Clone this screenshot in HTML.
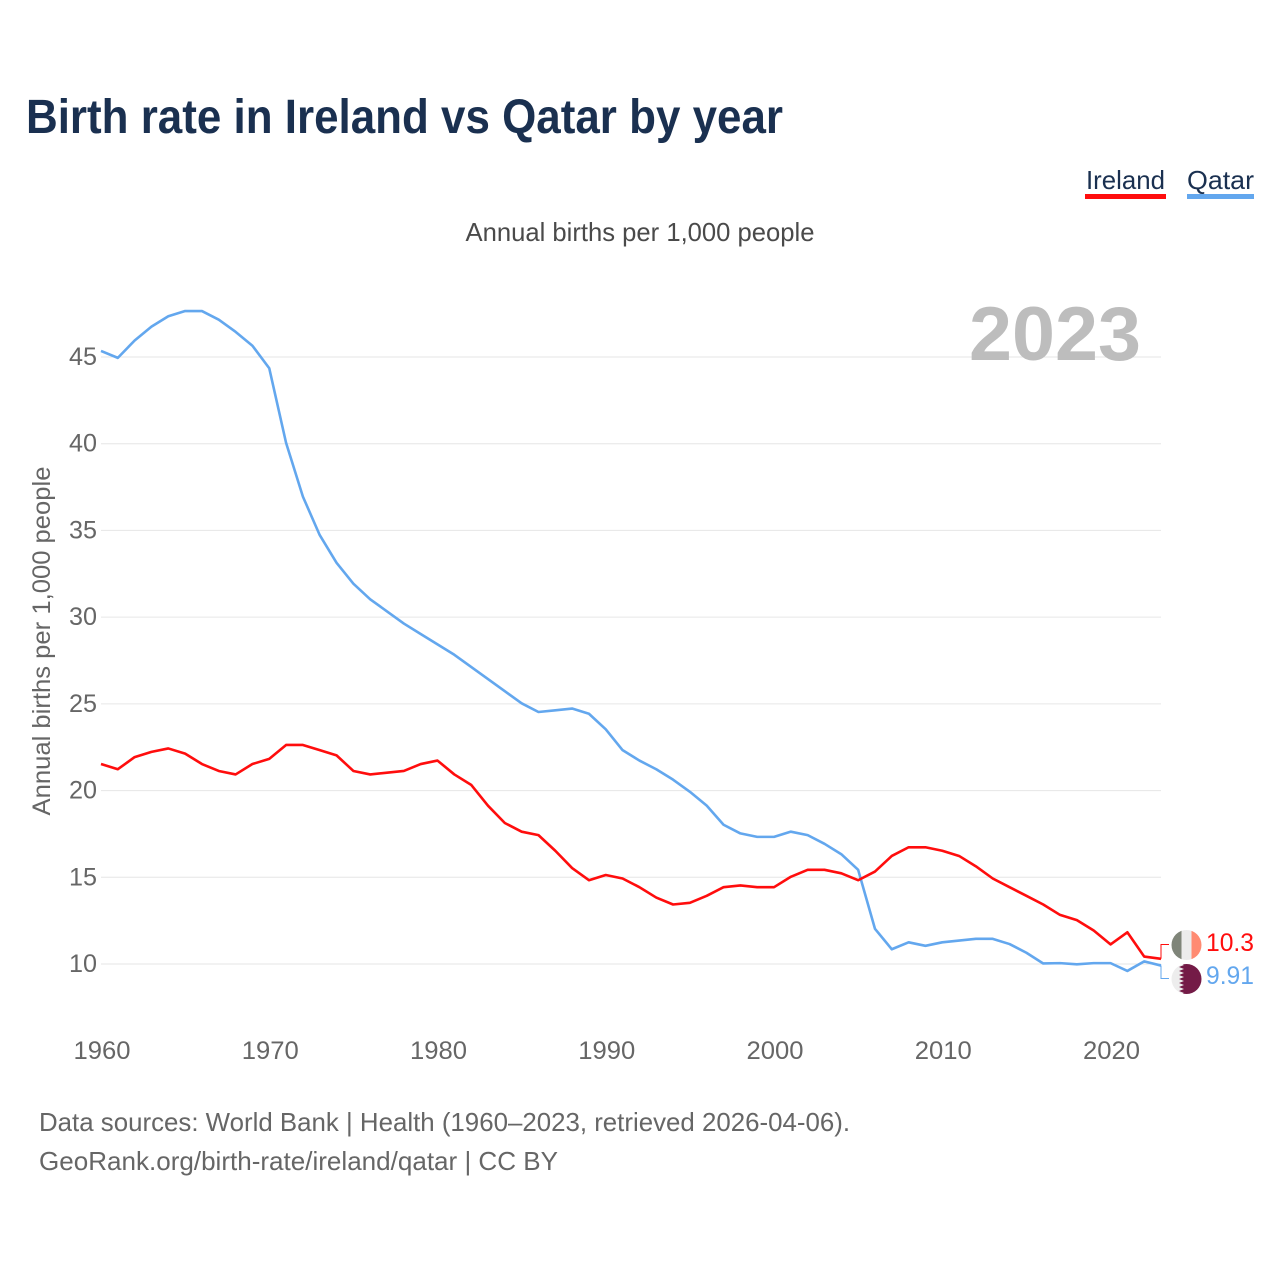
<!DOCTYPE html>
<html lang="en">
<head>
<meta charset="utf-8">
<title>Birth rate in Ireland vs Qatar by year</title>
<style>
html,body{margin:0;padding:0;background:#fff;width:1280px;height:1280px;overflow:hidden}
svg{display:block}
text{font-family:"Liberation Sans",sans-serif}
</style>
</head>
<body>
<svg id="chart" width="1280" height="1280" viewBox="0 0 1280 1280" xmlns="http://www.w3.org/2000/svg">
  <rect width="1280" height="1280" fill="#fff"/>
  <text x="26" y="133" font-size="48" font-weight="700" fill="#1a3050" textLength="757" lengthAdjust="spacingAndGlyphs">Birth rate in Ireland vs Qatar by year</text>
  <g>
    <text x="1086" y="189" font-size="26" fill="#1a3050" textLength="79" lengthAdjust="spacingAndGlyphs">Ireland</text>
    <rect x="1085" y="194" width="81" height="5" fill="#ff0d0d"/>
  </g>
  <g>
    <text x="1187" y="189" font-size="26" fill="#1a3050" textLength="67" lengthAdjust="spacingAndGlyphs">Qatar</text>
    <rect x="1187" y="194" width="67" height="5" fill="#63a7ee"/>
  </g>
  <text x="640" y="241" font-size="26" fill="#4a4a4a" text-anchor="middle" textLength="349" lengthAdjust="spacingAndGlyphs">Annual births per 1,000 people</text>
  <text transform="translate(50,641) rotate(-90)" font-size="25" fill="#666" text-anchor="middle" textLength="349" lengthAdjust="spacingAndGlyphs">Annual births per 1,000 people</text>
  <g id="grid"></g>
  <g id="yticks"></g>
  <g id="xticks"></g>
  <text x="969" y="360" font-size="76" font-weight="700" fill="#bdbdbd" textLength="172" lengthAdjust="spacingAndGlyphs">2023</text>
  <g id="series"></g>
  <g>
    <clipPath id="clip-ie"><circle cx="1186.5" cy="945" r="15"/></clipPath>
    <g clip-path="url(#clip-ie)">
      <rect x="1171" y="929" width="11" height="32" fill="#7f8579"/>
      <rect x="1181.5" y="929" width="10" height="32" fill="#ececec"/>
      <rect x="1191.5" y="929" width="11" height="32" fill="#ff8b72"/>
    </g>
  </g>
  <g>
    <clipPath id="clip-qa"><circle cx="1186.5" cy="979" r="15"/></clipPath>
    <g clip-path="url(#clip-qa)">
      <rect x="1171" y="963" width="32" height="32" fill="#ededed"/>
      <polygon fill="#741b47" points="1203,963 1179,963 1184,965 1179,967 1184,969 1179,971 1184,973 1179,975 1184,977 1179,979 1184,981 1179,983 1184,985 1179,987 1184,989 1179,991 1184,993 1179,995 1203,995"/>
    </g>
  </g>
  <text id="label-ie" x="1206" y="951" font-size="25" fill="#ff0d0d" textLength="48" lengthAdjust="spacingAndGlyphs"></text>
  <text id="label-qa" x="1206" y="984" font-size="25" fill="#63a7ee" textLength="48" lengthAdjust="spacingAndGlyphs"></text>
  <text x="39" y="1131" font-size="26" fill="#666" textLength="811" lengthAdjust="spacingAndGlyphs">Data sources: World Bank | Health (1960–2023, retrieved 2026-04-06).</text>
  <text x="39" y="1170" font-size="26" fill="#666" textLength="519" lengthAdjust="spacingAndGlyphs">GeoRank.org/birth-rate/ireland/qatar | CC BY</text>
</svg>
<script>
const years = [1960,1961,1962,1963,1964,1965,1966,1967,1968,1969,1970,1971,1972,1973,1974,1975,1976,1977,1978,1979,1980,1981,1982,1983,1984,1985,1986,1987,1988,1989,1990,1991,1992,1993,1994,1995,1996,1997,1998,1999,2000,2001,2002,2003,2004,2005,2006,2007,2008,2009,2010,2011,2012,2013,2014,2015,2016,2017,2018,2019,2020,2021,2022,2023];
const irelandValues = [21.53,21.23,21.93,22.23,22.43,22.13,21.53,21.13,20.93,21.53,21.83,22.63,22.63,22.33,22.03,21.13,20.93,21.03,21.13,21.53,21.73,20.93,20.33,19.13,18.13,17.63,17.43,16.53,15.53,14.83,15.13,14.93,14.43,13.83,13.43,13.53,13.93,14.43,14.53,14.43,14.43,15.03,15.43,15.43,15.23,14.83,15.33,16.23,16.73,16.73,16.53,16.23,15.63,14.93,14.43,13.93,13.43,12.83,12.53,11.93,11.13,11.83,10.43,10.3];
const qatarValues = [45.35,44.95,45.95,46.75,47.35,47.65,47.65,47.15,46.45,45.65,44.35,40.05,36.95,34.73,33.13,31.93,31.03,30.33,29.63,29.03,28.43,27.83,27.13,26.43,25.73,25.03,24.53,24.63,24.73,24.43,23.53,22.33,21.73,21.23,20.63,19.93,19.13,18.03,17.53,17.33,17.33,17.63,17.43,16.93,16.33,15.43,12.03,10.85,11.25,11.05,11.25,11.35,11.45,11.45,11.15,10.65,10.03,10.05,9.98,10.05,10.05,9.6,10.15,9.91];
const yTickValues = [10,15,20,25,30,35,40,45];
const xTickValues = [1960,1970,1980,1990,2000,2010,2020];
const irelandLabel = "10.3";
const qatarLabel = "9.91";

const NS = "http://www.w3.org/2000/svg";
const xScale = y => 101 + (y - 1960) * (1161 - 101) / 63;
const yScale = v => 964 - (v - 10) * (964 - 357) / 35;
const make = (tag, parent) => { const n = document.createElementNS(NS, tag); parent.appendChild(n); return n; };

const gridG = document.getElementById("grid");
const yG = document.getElementById("yticks");
const xG = document.getElementById("xticks");
const seriesG = document.getElementById("series");

yTickValues.forEach(v => {
  const l = make("line", gridG);
  
  
  l.setAttribute("x1", 101);
  l.setAttribute("x2", 1161);
  l.setAttribute("y1", yScale(v));
  l.setAttribute("y2", yScale(v));
  l.setAttribute("stroke", "#e6e6e6");
  l.setAttribute("stroke-width", "1");
  const t = make("text", yG);
  
  
  t.setAttribute("x", 97);
  t.setAttribute("y", yScale(v) + 8);
  t.setAttribute("text-anchor", "end");
  t.setAttribute("font-size", "25");
  t.setAttribute("fill", "#666");
  t.setAttribute("textLength", "28");
  t.setAttribute("lengthAdjust", "spacingAndGlyphs");
  t.textContent = v;
});

xTickValues.forEach(y => {
  const t = make("text", xG);
  
  
  t.setAttribute("x", xScale(y) + 1);
  t.setAttribute("y", 1059);
  t.setAttribute("text-anchor", "middle");
  t.setAttribute("font-size", "25");
  t.setAttribute("fill", "#666");
  t.setAttribute("textLength", "57");
  t.setAttribute("lengthAdjust", "spacingAndGlyphs");
  t.textContent = y;
});

const toPoints = vals => vals.map((v, i) => xScale(years[i]).toFixed(2) + "," + yScale(v).toFixed(2)).join(" ");

const qatarLine = make("polyline", seriesG);


qatarLine.setAttribute("points", toPoints(qatarValues));
qatarLine.setAttribute("fill", "none");
qatarLine.setAttribute("stroke", "#63a7ee");
qatarLine.setAttribute("stroke-width", "2.6");
qatarLine.setAttribute("stroke-linejoin", "round");

const irelandLine = make("polyline", seriesG);


irelandLine.setAttribute("points", toPoints(irelandValues));
irelandLine.setAttribute("fill", "none");
irelandLine.setAttribute("stroke", "#ff0d0d");
irelandLine.setAttribute("stroke-width", "2.6");
irelandLine.setAttribute("stroke-linejoin", "round");

const lastIe = yScale(irelandValues[irelandValues.length - 1]);
const connIe = make("polyline", seriesG);


connIe.setAttribute("points", "1161," + lastIe + " 1161,944.5 1169,944.5");
connIe.setAttribute("fill", "none");
connIe.setAttribute("stroke", "#ff0d0d");
connIe.setAttribute("stroke-width", "1");

const lastQa = yScale(qatarValues[qatarValues.length - 1]);
const connQa = make("polyline", seriesG);


connQa.setAttribute("points", "1161," + lastQa + " 1161,978.5 1169,978.5");
connQa.setAttribute("fill", "none");
connQa.setAttribute("stroke", "#63a7ee");
connQa.setAttribute("stroke-width", "1");

document.getElementById("label-ie").textContent = irelandLabel;
document.getElementById("label-qa").textContent = qatarLabel;
</script>
</body>
</html>
